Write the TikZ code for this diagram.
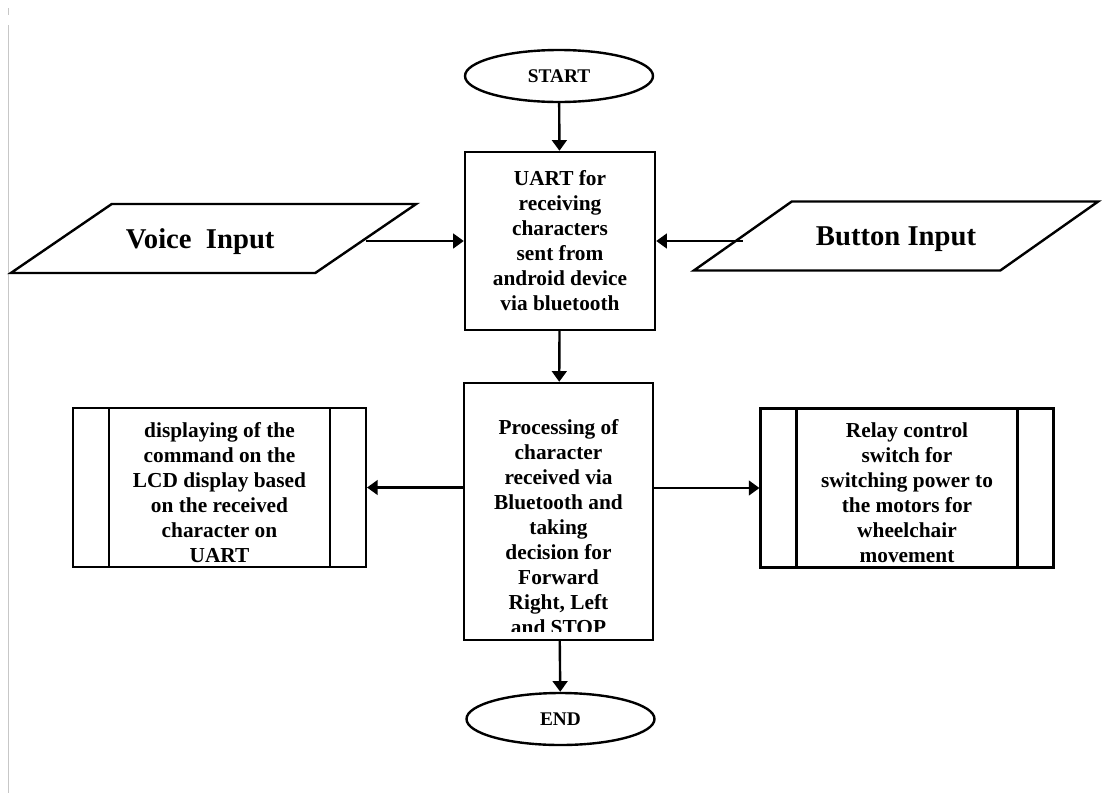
\documentclass[tikz,border=0pt]{standalone}
\usepackage{fontspec}
\setmainfont{Liberation Serif}
\usetikzlibrary{arrows.meta,positioning,calc,shapes.geometric}

\begin{document}
\begin{tikzpicture}[x=0.75pt, y=-0.75pt, >={Triangle[width=11pt,length=8pt]}, line width=1.8pt,
	terminal/.style={ellipse,draw=black,minimum width=141pt,minimum height=39pt,inner sep=0pt,font=\fontsize{14.5}{17}\selectfont\bfseries},
	process/.style={rectangle,draw=black,align=center,inner sep=0pt,font=\fontsize{16}{18.75}\selectfont\bfseries},
	inout/.style={rectangle,minimum height=50pt,inner sep=0pt,text depth=0pt,font=\fontsize{21.5}{25}\selectfont\bfseries},
	predef/.style={process,minimum width=219.5pt,minimum height=119pt,
		path picture={\draw ([xshift=27pt]path picture bounding box.north west) -- ([xshift=27pt]path picture bounding box.south west)
			([xshift=-27pt]path picture bounding box.north east) -- ([xshift=-27pt]path picture bounding box.south east);}}]
	\useasboundingbox (0,0) rectangle (1102,793);
	\draw[black!22,line width=1pt] (8.5,8) -- (8.5,15) (8.5,25) -- (8.5,793);

	\node[terminal] at (559,76) (start) {START};
	\node[process,minimum width=142.5pt,minimum height=133.5pt] at (560,241) (uart) {UART for\\receiving\\characters\\sent from\\android device\\via bluetooth};
	% input parallelograms
	\node[inout,minimum width=302.25pt] at (213.5,238.5) (voice) {Voice~~Input\hspace*{20pt}};
	\draw (voice.south west) -- ($(voice.north west)+(101,0)$) -- (voice.north east) -- ($(voice.south east)-(101,0)$) -- cycle;
	\coordinate (voiceout) at ($(voice.east)-(50.5,0)$);
	\node[inout,minimum width=301.5pt] at (896,236) (button) {Button Input};
	\draw (button.south west) -- ($(button.north west)+(98,0)$) -- (button.north east) -- ($(button.south east)-(98,0)$) -- cycle;
	\coordinate (buttonout) at ($(button.west)+(49,0)$);

	\node[process,minimum width=141.75pt,minimum height=192.75pt] at (558.5,511.5) (proc) {};
	\begin{scope}
		\clip (464,383) rectangle (653,631);
		\node[process,draw=none] at (558.5,527) (proctext) {Processing of\\character\\received via\\Bluetooth and\\taking\\decision for\\Forward\\Right, Left\\and STOP};
	\end{scope}
	\node[predef] at (219.5,487.5) (lcd) {\rule{0pt}{18.5pt}displaying of the\\command on the\\LCD display based\\on the received\\character on\\UART};
	\node[predef] at (907,488) (relay) {\rule{0pt}{18.5pt}Relay control\\switch for\\switching power to\\the motors for\\wheelchair\\movement};
	\node[terminal] at (560.5,719) (finish) {END};

	\draw[->] (start) -- (uart);
	\draw[->] (voiceout |- uart.west) -- (uart.west);
	\draw[->] (buttonout |- uart.east) -- (uart.east);
	\draw[->] (uart) -- (proc);
	\draw[->] (proc.west |- lcd.east) -- (lcd.east);
	\draw[->] (proc.east |- relay.west) -- (relay.west);
	\draw[->] (proc) -- (finish);
\end{tikzpicture}
\end{document}
